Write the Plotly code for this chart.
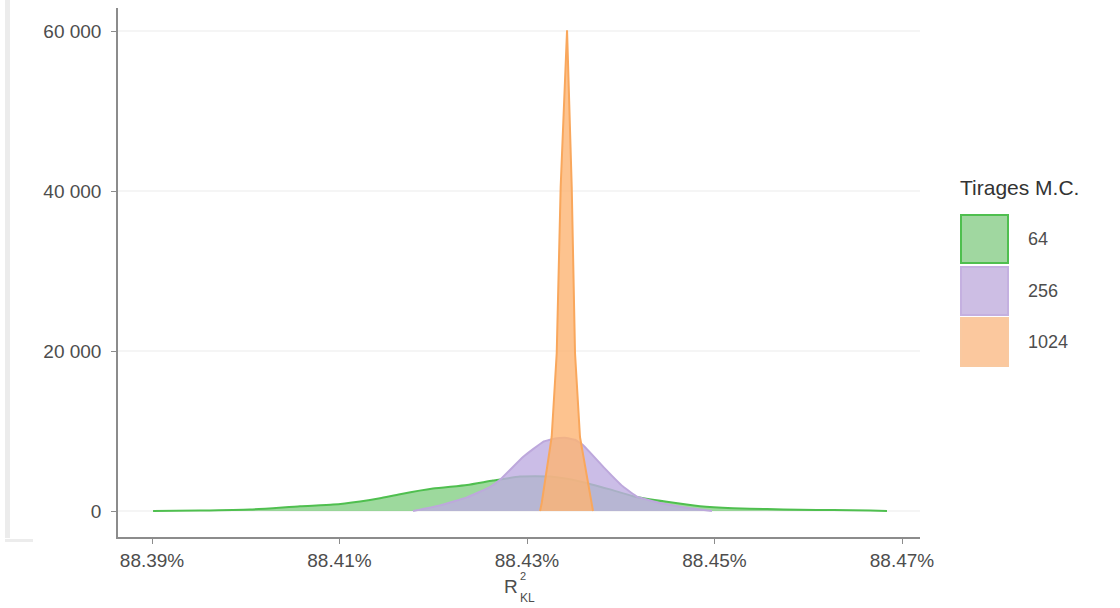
import plotly.graph_objects as go

# Monte-Carlo density estimates of R²_KL (in %), one series per draw count
draws = ["64", "256", "1024"]

r2_64 = [88.39011, 88.39512, 88.40045, 88.40579, 88.40931, 88.41219, 88.41432,
         88.41645, 88.41997, 88.42360, 88.42637, 88.42925, 88.43245, 88.43565,
         88.43885, 88.44131, 88.44493, 88.44845, 88.45197, 88.45560, 88.45912,
         88.46264, 88.46659, 88.46840]
dens_64 = [0, 60, 190, 600, 800, 1200, 1600, 2100, 2800, 3250, 3800, 4300,
           4300, 3700, 2700, 1850, 1150, 600, 350, 240, 150, 110, 50, 0]

r2_256 = [88.41784, 88.42072, 88.42360, 88.42605, 88.42712, 88.42957, 88.43171,
          88.43299, 88.43405, 88.43512, 88.43597, 88.43811, 88.44024, 88.44173,
          88.44419, 88.44739, 88.44973]
dens_256 = [0, 700, 1700, 3000, 3900, 6750, 8650, 9050, 9150, 8900, 8250,
            5550, 3050, 1800, 1000, 350, 0]

r2_1024 = [88.43139, 88.43157, 88.43263, 88.43317, 88.43359, 88.43427,
           88.43477, 88.43512, 88.43565, 88.43690, 88.43704]
dens_1024 = [0, 1000, 9250, 19750, 40500, 60100, 40500, 19750, 9250, 1000, 0]

x_ticks = [88.39, 88.41, 88.43, 88.45, 88.47]
x_tick_labels = ["88.39%", "88.41%", "88.43%", "88.45%", "88.47%"]
y_ticks = [0, 20000, 40000, 60000]

legend_title = "Tirages M.C."

# styling per series: (line colour, fill colour, legend key fill, legend key border)
styles = [
    ("#4fbf4f", "rgba(76,186,76,0.55)", "#a0d7a0", "#4fbf4f"),
    ("#bda8dc", "rgba(190,172,225,0.8)", "#cdbee4", "#c4b0e0"),
    ("#f9a75c", "rgba(252,180,115,0.8)", "#fbc89e", "#f9c9a0"),
]

W, H = 1120, 608
ML, MR, MT, MB = 118, 200, 8, 71
PW, PH = W - ML - MR, H - MT - MB


def px(x):
    return (x - ML) / PW


def py(y):
    return (H - MB - y) / PH


fig = go.Figure()
series = [(r2_64, dens_64), (r2_256, dens_256), (r2_1024, dens_1024)]
smooth = [0.5, 0.25, 0.0]
for i, (xs, ys) in enumerate(series):
    line_c, fill_c, _, _ = styles[i]
    line = dict(color=line_c, width=2)
    if smooth[i] > 0:
        line.update(shape="spline", smoothing=smooth[i])
    fig.add_trace(go.Scatter(
        x=xs, y=ys, name=draws[i], mode="lines", line=line,
        fill="tozeroy", fillcolor=fill_c, showlegend=False,
    ))

font_family = "Liberation Sans, Arial, sans-serif"

fig.update_layout(
    width=W, height=H,
    margin=dict(l=ML, r=MR, t=MT, b=MB),
    paper_bgcolor="white", plot_bgcolor="white",
    separators=". ",
    font=dict(family=font_family, size=19, color="#4d4d4d"),
    showlegend=False,
)

fig.update_xaxes(
    range=[88.38637, 88.47192],
    tickvals=x_ticks, ticktext=x_tick_labels,
    showgrid=False, zeroline=False,
    showline=True, linecolor="#8c8c8c", linewidth=1.5,
    ticks="outside", ticklen=5, tickcolor="#8c8c8c", tickwidth=1,
    ticklabelstandoff=0,
)
fig.update_yaxes(
    range=[-3250, 62875],
    tickvals=y_ticks, tickformat=",d",
    showgrid=True, gridcolor="#f5f5f5", gridwidth=2,
    zeroline=False,
    showline=True, linecolor="#8c8c8c", linewidth=1.5,
    ticks="outside", ticklen=5, tickcolor="#8c8c8c", tickwidth=1,
    ticklabelstandoff=6,
)

shapes = []
annotations = []

# light frame along the left edge
shapes.append(dict(type="rect", xref="paper", yref="paper",
                   x0=px(5), x1=px(10), y0=py(538), y1=py(0),
                   fillcolor="#ececec", line=dict(width=0), layer="below"))
shapes.append(dict(type="rect", xref="paper", yref="paper",
                   x0=px(5), x1=px(33), y0=py(542), y1=py(539),
                   fillcolor="#ececec", line=dict(width=0), layer="below"))

# legend: title, stacked square keys and labels
annotations.append(dict(text=legend_title, xref="paper", yref="paper",
                        x=px(958), y=py(187), xanchor="left", yanchor="middle",
                        showarrow=False,
                        font=dict(size=21, color="#333333", family=font_family)))
key_top = [215, 267, 318]
for i, name in enumerate(draws):
    _, _, key_fill, key_border = styles[i]
    y0, y1 = key_top[i], key_top[i] + 48
    shapes.append(dict(type="rect", xref="paper", yref="paper",
                       x0=px(961), x1=px(1008), y0=py(y1), y1=py(y0),
                       fillcolor=key_fill,
                       line=dict(color=key_border, width=2)))
    annotations.append(dict(text=name, xref="paper", yref="paper",
                            x=px(1026), y=py((y0 + y1) / 2),
                            xanchor="left", yanchor="middle", showarrow=False,
                            font=dict(size=18, color="#4d4d4d", family=font_family)))

# axis title R²_KL with stacked super/subscript
annotations.append(dict(text="R", xref="paper", yref="paper",
                        x=px(511), y=py(586), xanchor="center", yanchor="middle",
                        showarrow=False,
                        font=dict(size=19, color="#4d4d4d", family=font_family)))
annotations.append(dict(text="2", xref="paper", yref="paper",
                        x=px(523), y=py(576), xanchor="center", yanchor="middle",
                        showarrow=False,
                        font=dict(size=11, color="#4d4d4d", family=font_family)))
annotations.append(dict(text="KL", xref="paper", yref="paper",
                        x=px(527), y=py(598), xanchor="center", yanchor="middle",
                        showarrow=False,
                        font=dict(size=12, color="#4d4d4d", family=font_family)))

fig.update_layout(shapes=shapes, annotations=annotations)

fig.write_html("out.html")
